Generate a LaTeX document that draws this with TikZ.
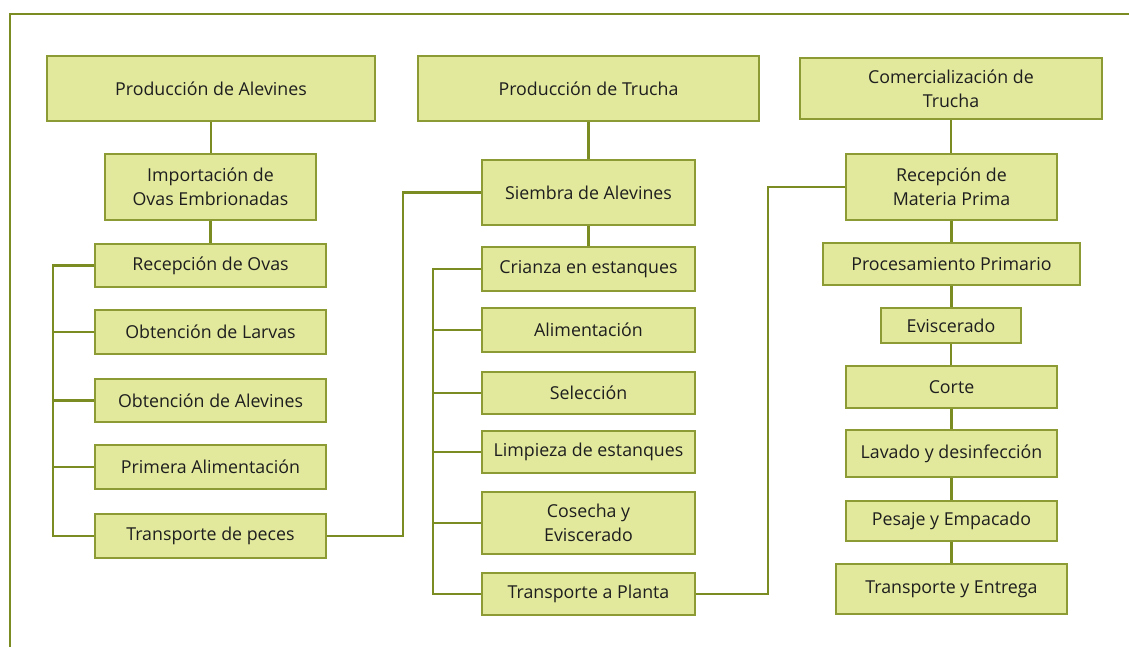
\documentclass[tikz,border=0pt]{standalone}
\usepackage{fontspec}
\setmainfont{Open Sans}
\definecolor{boxfill}{HTML}{E2E99D}
\definecolor{boxline}{HTML}{8C9B33}
\definecolor{conn}{HTML}{7A8C22}
\definecolor{txt}{HTML}{1E1E1E}
\begin{document}
\begin{tikzpicture}[x=1pt,y=-1pt,
  box/.style={draw=boxline,fill=boxfill,line width=1.4pt,rectangle,inner sep=0pt,
    align=center,text=txt,font=\fontsize{17.8}{24}\selectfont},
  link/.style={draw=conn,line width=2.6pt},
  frame/.style={draw=conn,line width=2.4pt}]
\useasboundingbox (0,0) rectangle (1129,647);
\draw[frame] (10,647) -- (10,14) -- (1129,14);
% column 1
\node[box,minimum width=328,minimum height=65] (pa) at (211,88.5) {Producción de Alevines};
\node[box,minimum width=211,minimum height=66] (io) at (210.5,187) {Importación de\\Ovas Embrionadas};
\node[box,minimum width=231,minimum height=43] (ro) at (210.5,265.5) {Recepción de Ovas};
\node[box,minimum width=231,minimum height=44] (ol) at (210.5,332) {Obtención de Larvas};
\node[box,minimum width=231,minimum height=43] (oa) at (210.5,400.5) {Obtención de Alevines};
\node[box,minimum width=231,minimum height=44] (pr) at (210.5,467) {Primera Alimentación};
\node[box,minimum width=231,minimum height=44] (tp) at (210.5,536) {Transporte de peces};
% column 2
\node[box,minimum width=341,minimum height=65] (pt) at (588.5,88.5) {Producción de Trucha};
\node[box,minimum width=213,minimum height=65] (sa) at (588.5,192.5) {Siembra de Alevines};
\node[box,minimum width=213,minimum height=44] (ce) at (588.5,269) {Crianza en estanques};
\node[box,minimum width=213,minimum height=44] (al) at (588.5,330) {Alimentación};
\node[box,minimum width=213,minimum height=42] (se) at (588.5,393) {Selección};
\node[box,minimum width=213,minimum height=42] (le) at (588.5,452) {Limpieza de estanques};
\node[box,minimum width=213,minimum height=62] (co) at (588.5,523) {Cosecha y\\Eviscerado};
\node[box,minimum width=213,minimum height=42] (tap) at (588.5,594) {Transporte a Planta};
% column 3
\node[box,minimum width=302,minimum height=61] (ct) at (951,88.5) {Comercialización de\\Trucha};
\node[box,minimum width=211,minimum height=66] (rm) at (951.5,187) {Recepción de\\Materia Prima};
\node[box,minimum width=257,minimum height=42] (pp) at (951.5,264) {Procesamiento Primario};
\node[box,minimum width=140,minimum height=35] (ev) at (951,325.5) {Eviscerado};
\node[box,minimum width=211,minimum height=42] (cr) at (951.5,387) {Corte};
\node[box,minimum width=211,minimum height=47] (ld) at (951.5,453.5) {Lavado y desinfección};
\node[box,minimum width=211,minimum height=40] (pe) at (951.5,521) {Pesaje y Empacado};
\node[box,minimum width=231,minimum height=50] (te) at (951.5,589) {Transporte y Entrega};
% spine / junction coordinates
\coordinate (s1) at (53,0);
\coordinate (j1) at (403,0);
\coordinate (s2) at (433,0);
\coordinate (j2) at (768,0);
% vertical links
\draw[link] (pa.south) -- (pa.south |- io.north);
\draw[link] (io.south) -- (io.south |- ro.north);
\draw[link] (pt.south) -- (pt.south |- sa.north);
\draw[link] (sa.south) -- (sa.south |- ce.north);
\draw[link] (ct.south) -- (ct.south |- rm.north);
\draw[link] (rm.south) -- (rm.south |- pp.north);
\draw[link] (pp.south) -- (pp.south |- ev.north);
\draw[link] (ev.south) -- (ev.south |- cr.north);
\draw[link] (cr.south) -- (cr.south |- ld.north);
\draw[link] (ld.south) -- (ld.south |- pe.north);
\draw[link] (pe.south) -- (pe.south |- te.north);
% column 1 spine
\draw[link] (ro.west) -- (ro.west -| s1) |- (tp.west);
\draw[link] (ol.west) -- (ol.west -| s1);
\draw[link] (oa.west) -- (oa.west -| s1);
\draw[link] (pr.west) -- (pr.west -| s1);
% column 2 spine
\draw[link] (ce.west) -- (ce.west -| s2) |- (tap.west);
\draw[link] (al.west) -- (al.west -| s2);
\draw[link] (se.west) -- (se.west -| s2);
\draw[link] (le.west) -- (le.west -| s2);
\draw[link] (co.west) -- (co.west -| s2);
% cross links
\draw[link] (tp.east) -- (tp.east -| j1) |- (sa.west);
\draw[link] (tap.east) -- (tap.east -| j2) |- (rm.west);
\end{tikzpicture}
\end{document}
